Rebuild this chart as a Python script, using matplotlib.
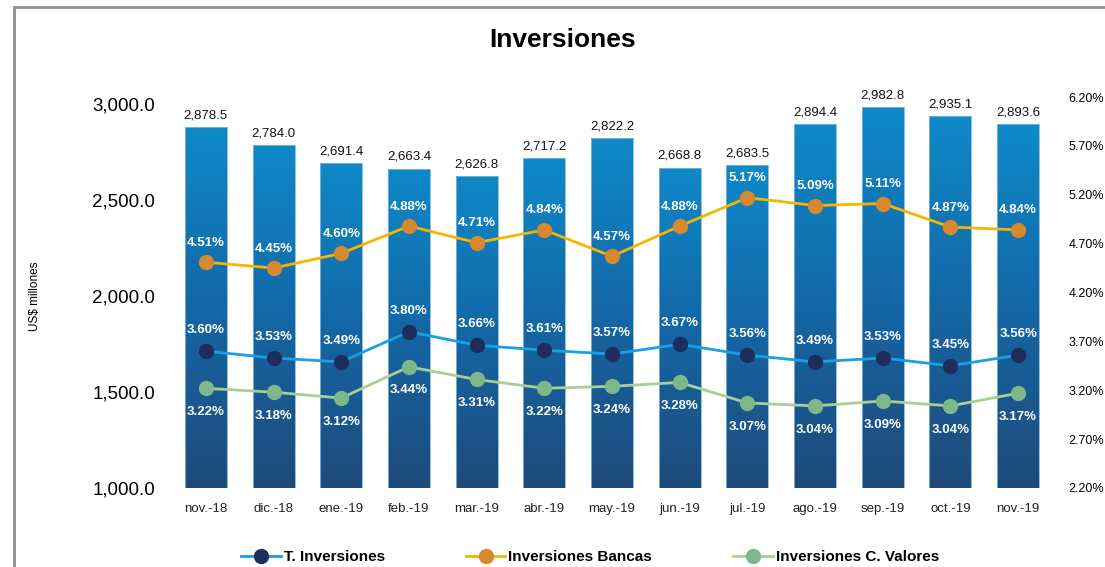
import numpy as np
import matplotlib
matplotlib.use("Agg")
import matplotlib.pyplot as plt
from matplotlib.lines import Line2D
from matplotlib.patches import Rectangle
from matplotlib.colors import LinearSegmentedColormap

plt.rcParams['font.family'] = ['Liberation Sans', 'DejaVu Sans']

months = ["nov.-18", "dic.-18", "ene.-19", "feb.-19", "mar.-19", "abr.-19", "may.-19",
          "jun.-19", "jul.-19", "ago.-19", "sep.-19", "oct.-19", "nov.-19"]
totals = [2878.5, 2784.0, 2691.4, 2663.4, 2626.8, 2717.2, 2822.2,
          2668.8, 2683.5, 2894.4, 2982.8, 2935.1, 2893.6]
t_inv = [3.60, 3.53, 3.49, 3.80, 3.66, 3.61, 3.57, 3.67, 3.56, 3.49, 3.53, 3.45, 3.56]
bancas = [4.51, 4.45, 4.60, 4.88, 4.71, 4.84, 4.57, 4.88, 5.17, 5.09, 5.11, 4.87, 4.84]
valores = [3.22, 3.18, 3.12, 3.44, 3.31, 3.22, 3.24, 3.28, 3.07, 3.04, 3.09, 3.04, 3.17]

left_ticks = [1000, 1500, 2000, 2500, 3000]
right_ticks = [2.2, 2.7, 3.2, 3.7, 4.2, 4.7, 5.2, 5.7, 6.2]

fig = plt.figure(figsize=(11.05, 5.67), dpi=100)
ax = fig.add_axes([172 / 1105, 79 / 567, 880 / 1105, 391 / 567])

x = np.arange(len(months))
bars = ax.bar(x, totals, width=0.62, color='none', edgecolor='#7fb8dd', linewidth=0.6, zorder=2)
ax.set_xlim(-0.5, len(months) - 0.5)
ax.set_ylim(1000, 3036)

# vertical gradient inside each bar
cmap = LinearSegmentedColormap.from_list('bar', ['#1f4a7a', '#1467a6', '#0e89c9'])
grad = np.linspace(0, 1, 256).reshape(-1, 1)
for b in bars:
    x0 = b.get_x()
    im = ax.imshow(grad, cmap=cmap, origin='lower', aspect='auto',
                   extent=[x0, x0 + b.get_width(), 1000, b.get_height()], zorder=1)
    im.set_clip_path(b)

ax.bar_label(bars, labels=[f"{v:,.1f}" for v in totals], padding=4, fontsize=9.5, color='#111111')

ax.set_yticks(left_ticks)
ax.set_yticklabels([f"{v:,.1f}" for v in left_ticks], fontsize=13.5)
ax.set_xticks(x)
ax.set_xticklabels(months, fontsize=9.5, color='#222222')
ax.tick_params(axis='both', length=0)
ax.tick_params(axis='y', pad=12)
ax.tick_params(axis='x', pad=11)
for s in ax.spines.values():
    s.set_visible(False)

ax2 = ax.twinx()
ax2.set_ylim(2.2, 6.2)
ax2.set_yticks(right_ticks)
ax2.set_yticklabels([f"{v:.2f}%" for v in right_ticks], fontsize=9)
ax2.tick_params(axis='y', length=0, pad=12)
for s in ax2.spines.values():
    s.set_visible(False)

series = [
    ("T. Inversiones", t_inv, '#19a0e3', '#1f2d5c', 15),
    ("Inversiones Bancas", bancas, '#f7b500', '#d6892e', 14),
    ("Inversiones C. Valores", valores, '#a9cf92', '#7db88a', -17),
]
handles = []
for name, vals, lc, mc, off in series:
    ax2.plot(x, vals, color=lc, lw=2, marker='o', ms=10, mfc=mc, mec=mc, zorder=3)
    for xi, v in zip(x, vals):
        ax2.annotate(f"{v:.2f}%", (xi, v), xytext=(0, off), textcoords='offset points',
                     ha='center', va='center', fontsize=9.5, fontweight='bold', color='white')
    handles.append(Line2D([], [], color=lc, lw=2, marker='o', ms=10, mfc=mc, mec=mc, label=name))

fig.legend(handles=handles, loc='center', bbox_to_anchor=(590 / 1105, 10 / 567), ncol=3,
           frameon=False, prop={'size': 11, 'weight': 'bold'}, columnspacing=5.3,
           handlelength=2.6, handletextpad=0.2)

fig.text(563 / 1105, 1 - 40 / 567, "Inversiones", ha='center', va='center',
         fontsize=19, fontweight='bold')
fig.text(35 / 1105, 1 - 296 / 567, "US$ millones", ha='center', va='center',
         rotation=90, fontsize=8.5)

# grey frame, cut by the right and bottom edges
fig.patches.append(Rectangle((14 / 1105, -0.1), 1.2, 1 - 7 / 567 + 0.1, transform=fig.transFigure,
                             fill=False, edgecolor='#8e9190', linewidth=2))

fig.savefig("out.png", dpi=100)
